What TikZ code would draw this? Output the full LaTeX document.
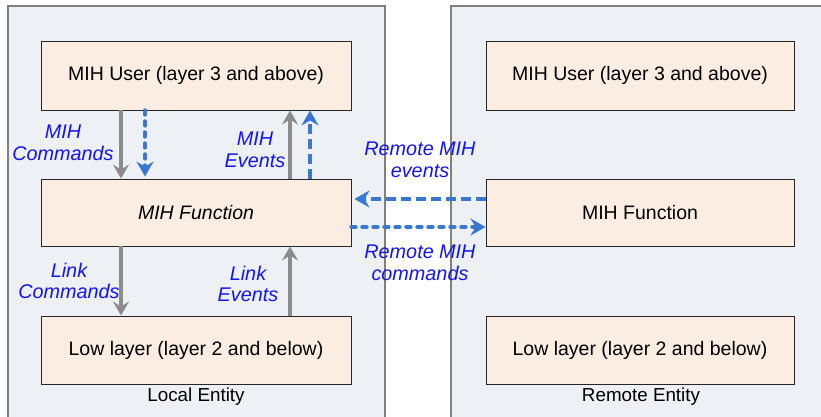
\documentclass[tikz,border=0pt]{standalone}
\usepackage{fontspec}
\setmainfont{Liberation Sans}
\usetikzlibrary{arrows.meta}

\definecolor{entityfill}{HTML}{EDF0F5}
\definecolor{entityline}{HTML}{7F7F7F}
\definecolor{layerfill}{HTML}{FCEDE3}
\definecolor{layerline}{HTML}{262626}
\definecolor{primgray}{HTML}{8C8C8C}
\definecolor{remoteblue}{HTML}{3A78D0}
\definecolor{labelblue}{HTML}{1414F0}

\tikzset{
  entity/.style={draw=entityline, fill=entityfill, line width=1.4pt},
  layerbox/.style={draw=layerline, fill=layerfill, line width=0.9pt,
    minimum width=310pt, minimum height=68pt, inner sep=0pt,
    font=\fontsize{19.5}{22}\selectfont},
  entitytitle/.style={font=\fontsize{18.8}{22}\selectfont, inner sep=0pt},
  primitive/.style={draw=primgray, line width=3.6pt,
    -{Stealth[length=14pt,width=16pt,inset=5pt]}},
  cmdflow/.style={draw=remoteblue, line width=4.4pt, line cap=round,
    dash pattern=on 4pt off 7pt,
    -{Stealth[length=15pt,width=17pt,inset=5pt,line cap=butt]}},
  evtflow/.style={draw=remoteblue, line width=4.4pt,
    dash pattern=on 10pt off 5pt,
    -{Stealth[length=15pt,width=17pt,inset=5pt]}},
  flowlabel/.style={text=labelblue, align=center, inner sep=0pt,
    font=\fontsize{19.8}{21.5}\selectfont\itshape},
}

\begin{document}
\begin{tikzpicture}[x=1pt, y=-1pt]
  \useasboundingbox (0,0) rectangle (821,416);
  \clip (0,0) rectangle (821,416);

  % the two entities, running off the lower and right edges
  \draw[entity] (8,6) rectangle (385,440);
  \draw[entity] (451,6) rectangle (840,440);

  % local entity stack
  \node[layerbox, minimum height=69pt] (user) at (196,75.5) {MIH User (layer 3 and above)};
  \node[layerbox, minimum height=67pt] (func) at (196,212.5) {\itshape MIH Function};
  \node[layerbox] (low) at (196,350) {Low layer (layer 2 and below)};
  \node[entitytitle] (localname) at (196,397) {Local Entity};

  % remote entity stack
  \node[layerbox, minimum width=308pt, minimum height=69pt] (ruser) at (640,75.5) {MIH User (layer 3 and above)};
  \node[layerbox, minimum width=308pt, minimum height=67pt] (rfunc) at (640,212.5) {MIH Function};
  \node[layerbox, minimum width=308pt] (rlow) at (640,350) {Low layer (layer 2 and below)};
  \node[entitytitle] (remotename) at (641,397) {Remote Entity};

  % local primitives between the layers
  \draw[primitive] ([xshift=-75pt]user.south) -- ([xshift=-75pt]func.north);
  \draw[cmdflow]   ([xshift=-51pt]user.south) -- ([xshift=-51pt,yshift=2pt]func.north);
  \draw[primitive] ([xshift=94pt]func.north) -- ([xshift=94pt]user.south);
  \draw[evtflow]   ([xshift=114pt]func.north) -- ([xshift=114pt]user.south);
  \draw[primitive] ([xshift=-75pt]func.south) -- ([xshift=-75pt]low.north);
  \draw[primitive] ([xshift=94pt]low.north) -- ([xshift=94pt]func.south);

  % remote primitives between the two MIH functions
  \draw[evtflow] ([yshift=13.5pt]rfunc.west) -- ([yshift=13.5pt,xshift=3pt]func.east);
  \draw[cmdflow] ([yshift=-14.5pt]func.east) -- ([yshift=-14.5pt]rfunc.west);

  % labels
  \node[flowlabel] (lmc) at (63,143) {MIH\\Commands};
  \node[flowlabel] (lme) at (255,150) {MIH\\Events};
  \node[flowlabel] (llc) at (69,281) {Link\\Commands};
  \node[flowlabel] (lle) at (248,284) {Link\\Events};
  \node[flowlabel] (lre) at (420,160) {Remote MIH\\events};
  \node[flowlabel] (lrc) at (420,263) {Remote MIH\\commands};
\end{tikzpicture}
\end{document}
